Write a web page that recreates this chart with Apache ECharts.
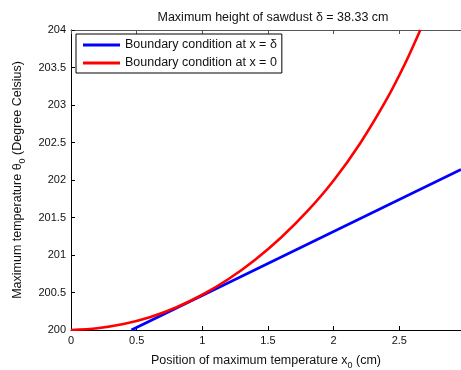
<!DOCTYPE html>
<html>
<head>
<meta charset="utf-8">
<script src="https://cdn.jsdelivr.net/npm/echarts@6/dist/echarts.min.js"></script>
<style>
  html, body { margin: 0; padding: 0; background: #fff; }
  #chart { width: 461px; height: 370px; }
</style>
</head>
<body>
<div id="chart"></div>
<script>
// values
const redX = [0, 0.2, 0.4, 0.6, 0.8, 1.0, 1.2, 1.4, 1.6, 1.8, 2.0, 2.2, 2.4, 2.55, 2.66];
const redY = [200, 200.024, 200.08, 200.17, 200.3, 200.47, 200.68, 200.934, 201.234, 201.584, 201.994, 202.484, 203.064, 203.574, 204];
const blueX = [0.46, 2.97];
const blueY = [200, 202.14];
const xTicks = [0, 0.5, 1, 1.5, 2, 2.5];

const font = '"Liberation Sans", Arial, sans-serif';
const chart = echarts.init(document.getElementById("chart"), null, { renderer: "canvas" });

const zip = (xs, ys) => xs.map((x, i) => [x, ys[i]]);
const xFmt = (v) => (xTicks.some((t) => Math.abs(t - v) < 1e-9) ? String(v) : "");
const subRich = { sub: { fontSize: 9, padding: [9, 0, 0, 0], fontFamily: font, color: "#111" } };

chart.setOption({
  animation: false,
  backgroundColor: "#fff",
  textStyle: { fontFamily: font },
  title: {
    text: "Maximum height of sawdust δ = 38.33 cm",
    left: 268,
    top: 6,
    textAlign: "center",
    textStyle: { fontSize: 12.5, fontWeight: "normal", color: "#111", fontFamily: font },
  },
  grid: { left: 71, top: 30, right: 0, bottom: 40, outerBoundsMode: "none", containLabel: false },
  legend: {
    orient: "vertical",
    left: 76,
    top: 34,
    padding: [4, 5, 3, 7],
    itemGap: 4,
    itemWidth: 37,
    itemHeight: 3,
    icon: "rect",
    borderColor: "#000",
    borderWidth: 1,
    backgroundColor: "#fff",
    textStyle: { fontSize: 12.5, color: "#111", fontFamily: font, lineHeight: 14 },
    data: ["Boundary condition at x = δ", "Boundary condition at x = 0"],
  },
  xAxis: [
    {
      type: "value",
      min: 0,
      max: 2.97,
      interval: 0.5,
      name: "Position of maximum temperature x{sub|0} (cm)",
      nameLocation: "middle",
      nameGap: 22,
      nameTextStyle: { fontSize: 12.5, color: "#111", fontFamily: font, rich: subRich },
      axisLine: { lineStyle: { color: "#000", width: 1 } },
      axisTick: { inside: true, length: 4, lineStyle: { color: "#000" } },
      axisLabel: { fontSize: 11, color: "#111", margin: 5, formatter: xFmt, showMaxLabel: false },
      splitLine: { show: false },
    },
    {
      type: "value",
      position: "top",
      min: 0,
      max: 2.97,
      interval: 0.5,
      axisLine: { show: true, lineStyle: { color: "#555", width: 1 } },
      axisTick: { inside: true, length: 4, lineStyle: { color: "#555" } },
      axisLabel: { show: false },
      splitLine: { show: false },
    },
  ],
  yAxis: {
    type: "value",
    min: 200,
    max: 204,
    interval: 0.5,
    name: "Maximum temperature θ{sub|0} (Degree Celsius)",
    nameLocation: "middle",
    nameGap: 44,
    nameRotate: 90,
    nameTextStyle: { fontSize: 12.5, color: "#111", fontFamily: font, rich: subRich },
    axisLine: { show: true, lineStyle: { color: "#000", width: 1 } },
    axisTick: { inside: true, length: 4, lineStyle: { color: "#000" } },
    axisLabel: { fontSize: 11, color: "#111", margin: 5 },
    splitLine: { show: false },
  },
  series: [
    {
      name: "Boundary condition at x = δ",
      type: "line",
      data: zip(blueX, blueY),
      showSymbol: false,
      color: "#0000ff",
      lineStyle: { color: "#0000ff", width: 2.6 },
      z: 2,
    },
    {
      name: "Boundary condition at x = 0",
      type: "line",
      data: zip(redX, redY),
      showSymbol: false,
      smooth: 0.3,
      color: "#ff0000",
      lineStyle: { color: "#ff0000", width: 2.6 },
      z: 3,
    },
  ],
});
</script>
</body>
</html>
